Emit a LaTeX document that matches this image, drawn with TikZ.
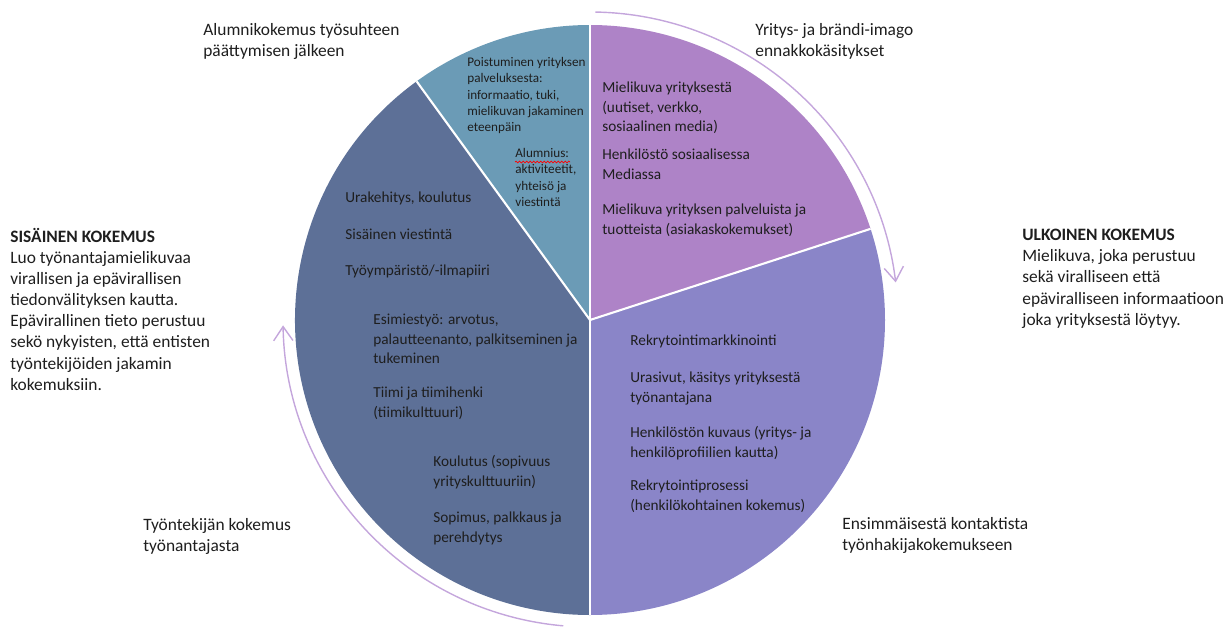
\documentclass[tikz,border=0pt]{standalone}
\usepackage{fontspec}
\setmainfont{Carlito}
\usetikzlibrary{arrows.meta,decorations.pathmorphing}
\definecolor{imgpurple}{HTML}{AE83C7}
\definecolor{rekblue}{HTML}{8A85C8}
\definecolor{empslate}{HTML}{5D7097}
\definecolor{alumteal}{HTML}{6B9BB6}
\definecolor{cyclearc}{HTML}{C4A6DC}
\definecolor{txt}{HTML}{1E1E1E}
\begin{document}
\begin{tikzpicture}[x=0.02cm,y=0.02cm,
  sep/.style={draw=white,line width=1.2pt},
  intext/.style={anchor=north west,inner sep=0pt,align=left,text=txt,
                 font=\fontsize{8.7}{11.1}\selectfont},
  smalltext/.style={intext,font=\fontsize{7.5}{9.3}\selectfont},
  outtext/.style={intext,font=\fontsize{9.9}{12}\selectfont},
  cyclearrow/.style={cyclearc,line width=0.8pt,
                     -{Straight Barb[length=8pt,width=11pt]}}]
  \useasboundingbox (0,0) rectangle (1231,-629);
  \coordinate (c) at (590,-320);
  % pie slices
  \fill[imgpurple] (c) -- ++(18:295) arc[start angle=18,end angle=90,radius=295] -- cycle;
  \fill[alumteal] (c) -- ++(90:295) arc[start angle=90,end angle=126,radius=295] -- cycle;
  \fill[empslate] (c) -- ++(126:295) arc[start angle=126,end angle=270,radius=295] -- cycle;
  \fill[rekblue] (c) -- ++(270:295) arc[start angle=270,end angle=378,radius=295] -- cycle;
  \foreach \a in {18,90,126,270}
    \draw[sep] (c) -- ++(\a:295);
  % cycle arrows
  \draw[cyclearrow] (c) ++(89:308) arc[start angle=89,end angle=7,radius=308];
  \draw[cyclearrow] (c) ++(265:307) arc[start angle=265,end angle=181,radius=307];

  % alumni slice
  \node[smalltext] (leave) at (467,-57) {Poistuminen yrityksen\\palveluksesta:\\informaatio, tuki,\\mielikuvan jakaminen\\eteenpäin};
  \node[smalltext] (alum) at (515,-148) {Alumnius:\\aktiviteetit,\\yhteisö ja\\viestintä};
  \draw[red,line width=0.4pt,decorate,decoration={snake,amplitude=0.5pt,segment length=2pt}]
    (515,-162) -- (570,-162);
  % image slice
  \node[intext] (img1) at (602,-82) {Mielikuva yrityksestä\\(uutiset, verkko,\\sosiaalinen media)};
  \node[intext] (img2) at (602,-149) {Henkilöstö sosiaalisessa\\Mediassa};
  \node[intext] (img3) at (602,-204) {Mielikuva yrityksen palveluista ja\\tuotteista (asiakaskokemukset)};
  % recruitment slice
  \node[intext] (rek1) at (630,-335) {Rekrytointimarkkinointi};
  \node[intext] (rek2) at (630,-372) {Urasivut, käsitys yrityksestä\\työnantajana};
  \node[intext] (rek3) at (630,-426) {Henkilöstön kuvaus (yritys- ja\\henkilöprofiilien kautta)};
  \node[intext] (rek4) at (630,-480) {Rekrytointiprosessi\\(henkilökohtainen kokemus)};
  % employee slice
  \node[intext] (emp1) at (345,-192) {Urakehitys, koulutus};
  \node[intext] (emp2) at (345,-229) {Sisäinen viestintä};
  \node[intext] (emp3) at (345,-265) {Työympäristö/-ilmapiiri};
  \node[intext] (emp4) at (373,-314) {Esimiestyö: arvotus,\\palautteenanto, palkitseminen ja\\tukeminen};
  \node[intext] (emp5) at (373,-387) {Tiimi ja tiimihenki\\(tiimikulttuuri)};
  \node[intext] (emp6) at (433,-455) {Koulutus (sopivuus\\yrityskulttuuriin)};
  \node[intext] (emp7) at (433,-512) {Sopimus, palkkaus ja\\perehdytys};

  % outside labels
  \node[outtext] (alumni) at (203,-23) {Alumnikokemus työsuhteen\\päättymisen jälkeen};
  \node[outtext] (image) at (755,-23) {Yritys- ja brändi-imago\\ennakkokäsitykset};
  \node[outtext] (internal) at (10,-228) {\textbf{SISÄINEN KOKEMUS}\\Luo työnantajamielikuvaa\\virallisen ja epävirallisen\\tiedonvälityksen kautta.\\Epävirallinen tieto perustuu\\sekö nykyisten, että entisten\\työntekijöiden jakamin\\kokemuksiin.};
  \node[outtext] (external) at (1022,-229) {\textbf{ULKOINEN KOKEMUS}\\Mielikuva, joka perustuu\\sekä viralliseen että\\epäviralliseen informaatioon\\joka yrityksestä löytyy.};
  \node[outtext] (employee) at (143,-518) {Työntekijän kokemus\\työnantajasta};
  \node[outtext] (applicant) at (842,-517) {Ensimmäisestä kontaktista\\työnhakijakokemukseen};
\end{tikzpicture}
\end{document}
